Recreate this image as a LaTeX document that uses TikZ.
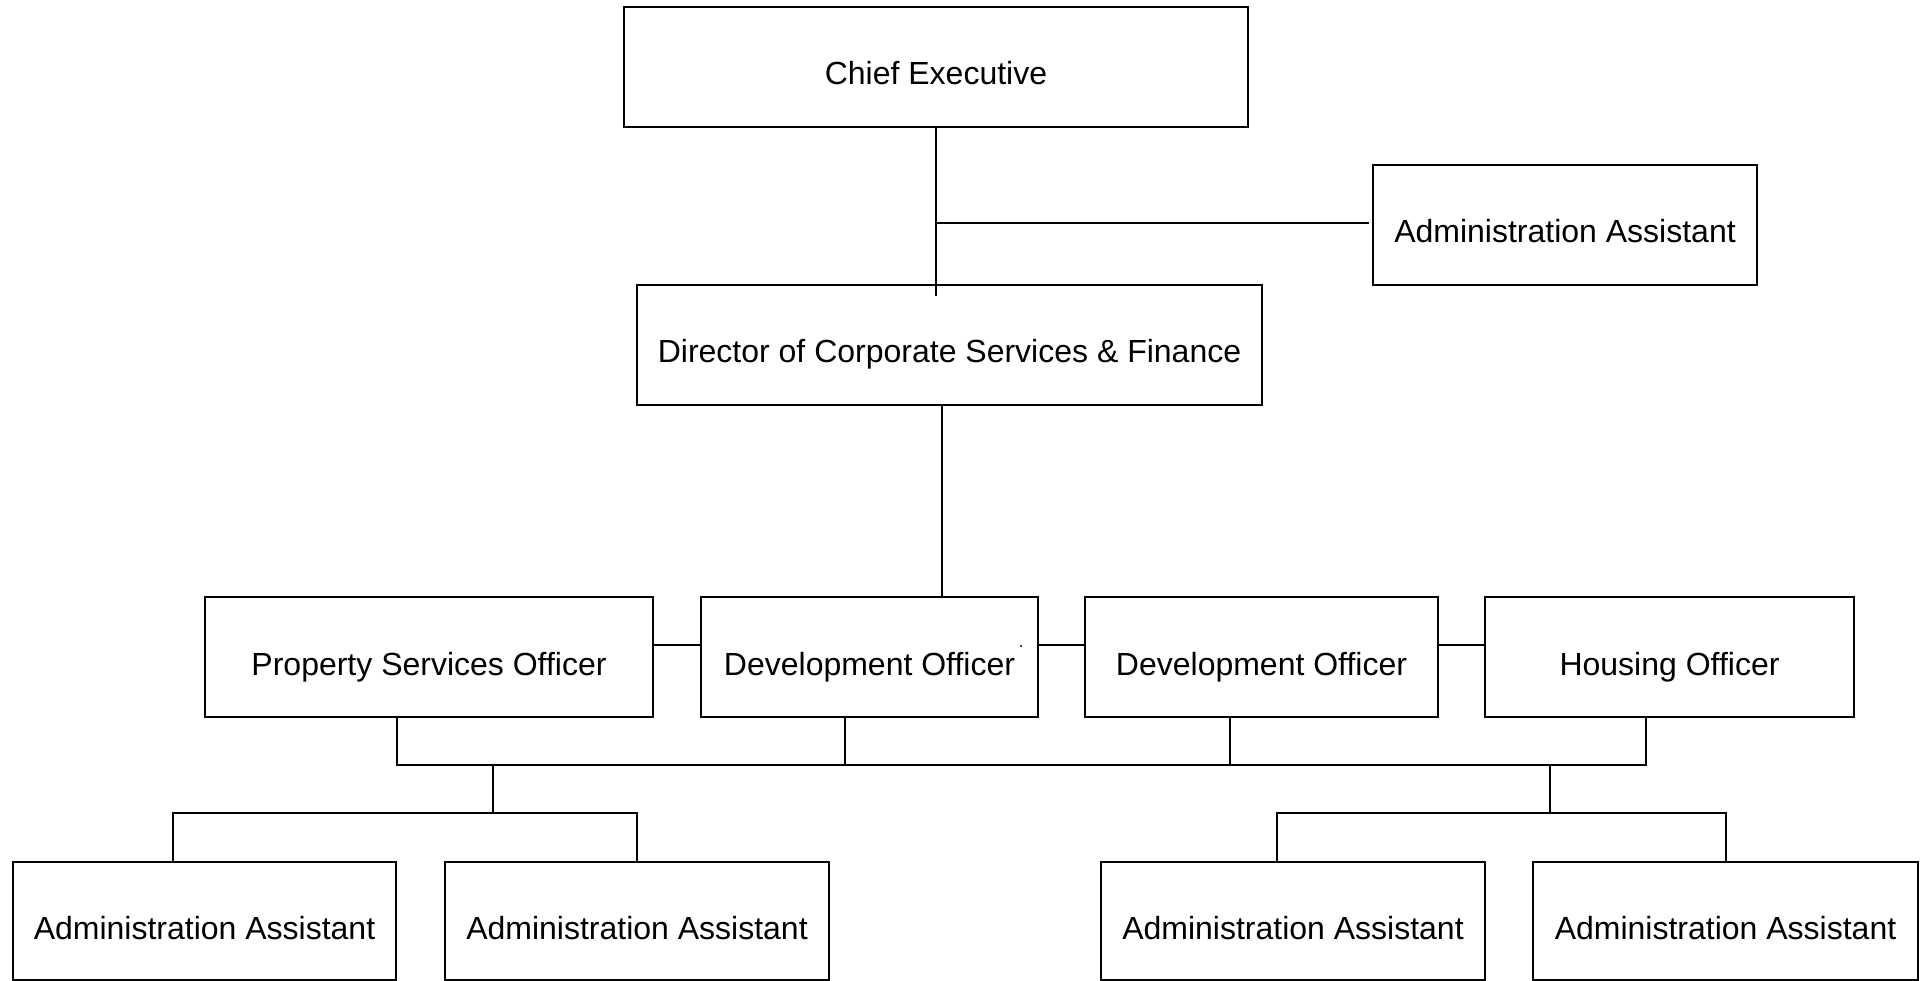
\documentclass[tikz,border=0pt]{standalone}
\usepackage{fontspec}
\setmainfont{Liberation Sans}
\begin{document}
\begin{tikzpicture}[x=1pt,y=-1pt,
  box/.style={draw, line width=2pt, rectangle, inner sep=0pt, minimum height=120pt,
    text height=36pt, text depth=0pt, font=\fontsize{32}{38}\selectfont},
  conn/.style={line width=2pt}]
\useasboundingbox (0,0) rectangle (1925,981);
% boxes
\node[box, minimum width=624pt] (ce) at (936,67) {Chief Executive};
\node[box, minimum width=384pt] (aatop) at (1565,225) {Administration Assistant};
\node[box, minimum width=625pt] (dir) at (949.5,345) {Director of Corporate Services \& Finance};
\node[box, minimum width=448pt] (prop) at (429,657) {Property Services Officer};
\node[box, minimum width=337pt] (dev1) at (869.5,657) {Development Officer};
\node[box, minimum width=353pt] (dev2) at (1261.5,657) {Development Officer};
\node[box, minimum width=369pt] (hous) at (1669.5,657) {Housing Officer};
\node[box, minimum width=383pt, minimum height=118pt] (aa1) at (204.5,921) {Administration Assistant};
\node[box, minimum width=384pt, minimum height=118pt] (aa2) at (637,921) {Administration Assistant};
\node[box, minimum width=384pt, minimum height=118pt] (aa3) at (1293,921) {Administration Assistant};
\node[box, minimum width=385pt, minimum height=118pt] (aa4) at (1725.5,921) {Administration Assistant};
% stray dot in the reference
\fill (1021,646) circle (1.2pt);
% helper coordinates
\coordinate (ceend) at (936,296);
\coordinate (tee) at (936,223);
\coordinate (aaend) at (1369,223);
\coordinate (dirx) at (942,0);
\coordinate (rowy) at (0,645);
\coordinate (pdx) at (397,0);
\coordinate (d1x) at (845,0);
\coordinate (d2x) at (1230,0);
\coordinate (hx) at (1646,0);
\coordinate (busy) at (0,765);
\coordinate (ldrop) at (493,765);
\coordinate (rdrop) at (1550,765);
\coordinate (bary) at (0,813);
\coordinate (aa1x) at (173,0);
\coordinate (aa3x) at (1277,0);
\coordinate (aa4x) at (1726,0);
% connectors
\draw[conn] (ce.south) -- (ceend);
\draw[conn] (tee) -- (aaend);
\draw[conn] (dir.south -| dirx) -- (dev1.north -| dirx);
\draw[conn] (prop.east |- rowy) -- (dev1.west |- rowy);
\draw[conn] (dev1.east |- rowy) -- (dev2.west |- rowy);
\draw[conn] (dev2.east |- rowy) -- (hous.west |- rowy);
\draw[conn] (prop.south -| pdx) -- (pdx |- busy) -- (hx |- busy) -- (hous.south -| hx);
\draw[conn] (dev1.south -| d1x) -- (d1x |- busy);
\draw[conn] (dev2.south -| d2x) -- (d2x |- busy);
\draw[conn] (ldrop) -- (ldrop |- bary);
\draw[conn] (aa1.north -| aa1x) -- (aa1x |- bary) -- (aa2.north |- bary) -- (aa2.north);
\draw[conn] (rdrop) -- (rdrop |- bary);
\draw[conn] (aa3.north -| aa3x) -- (aa3x |- bary) -- (aa4x |- bary) -- (aa4.north -| aa4x);
\end{tikzpicture}
\end{document}
